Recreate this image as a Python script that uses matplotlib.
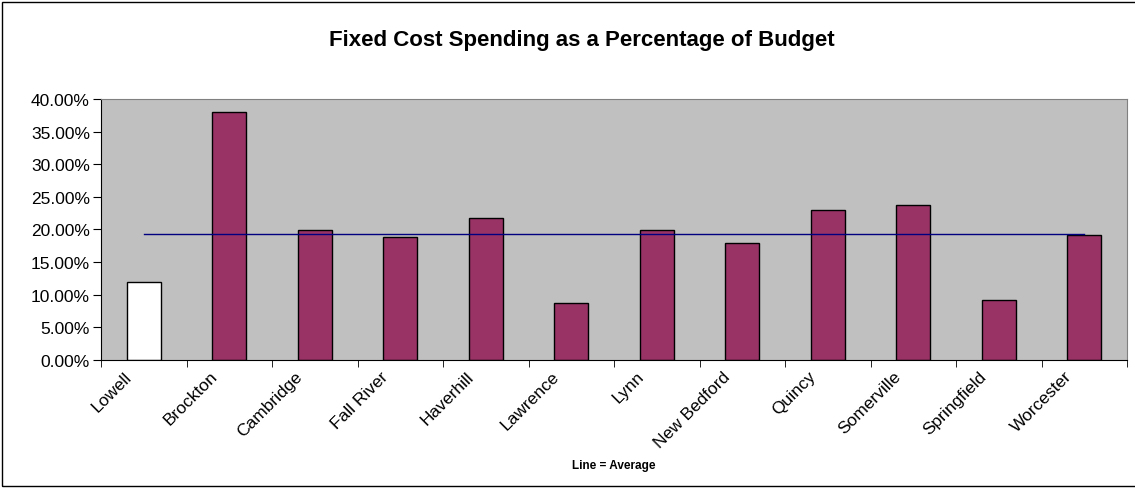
import matplotlib
matplotlib.use('Agg')
import matplotlib.pyplot as plt
import matplotlib.transforms as mtransforms
from matplotlib.ticker import PercentFormatter, FixedLocator
from matplotlib.patches import Rectangle

plt.rcParams['font.family'] = ['Liberation Sans', 'DejaVu Sans']

# data
cities = ['Lowell', 'Brockton', 'Cambridge', 'Fall River', 'Haverhill', 'Lawrence',
          'Lynn', 'New Bedford', 'Quincy', 'Somerville', 'Springfield', 'Worcester']
spending = [0.119, 0.380, 0.199, 0.188, 0.217, 0.088,
            0.199, 0.179, 0.230, 0.237, 0.092, 0.192]
average = 0.1925
yticks = [0.0, 0.05, 0.10, 0.15, 0.20, 0.25, 0.30, 0.35, 0.40]

bar_colors = ['white'] + ['#993366'] * (len(cities) - 1)

fig = plt.figure(figsize=(11.35, 4.89), dpi=100)
ax = fig.add_axes([0.089, 0.2618, 0.904, 0.5337])
ax.set_facecolor('#C0C0C0')

x = list(range(len(cities)))
ax.bar(x, spending, width=0.4, color=bar_colors, edgecolor='black', linewidth=1.0, zorder=2)
ax.plot([x[0], x[-1]], [average, average], color='#000080', linewidth=1.0, zorder=3)

ax.set_xlim(-0.5, len(cities) - 0.5)
ax.set_ylim(0, 0.40)
ax.set_yticks(yticks)
ax.yaxis.set_major_formatter(PercentFormatter(1.0, decimals=2))

# category labels at centres, tick marks on the boundaries (Excel style)
ax.set_xticks(x)
ax.set_xticklabels(cities, rotation=45, ha='right', rotation_mode='anchor', fontsize=12.5)
ax.tick_params(axis='x', which='major', length=0, pad=6)
ax.xaxis.set_minor_locator(FixedLocator([i - 0.5 for i in range(len(cities) + 1)]))
ax.tick_params(axis='x', which='minor', length=5, direction='out', color='black')
shift = mtransforms.ScaledTranslation(-0.2, 0, fig.dpi_scale_trans)
for lab in ax.get_xticklabels():
    lab.set_transform(lab.get_transform() + shift)

ax.tick_params(axis='y', length=6, direction='out', labelsize=12.5, pad=2)

for side in ['top', 'right']:
    ax.spines[side].set_color('#808080')
for side in ['left', 'bottom']:
    ax.spines[side].set_color('black')

fig.text(0.513, 0.918, 'Fixed Cost Spending as a Percentage of Budget',
         ha='center', va='center', fontsize=16, fontweight='bold')
fig.text(0.541, 0.047, 'Line = Average', ha='center', va='center',
         fontsize=8.5, fontweight='bold')

fig.patches.append(Rectangle((0.002, 0.004), 1.2, 0.99, transform=fig.transFigure,
                             fill=False, edgecolor='black', linewidth=1.0))

fig.savefig('out.png', dpi=100)
